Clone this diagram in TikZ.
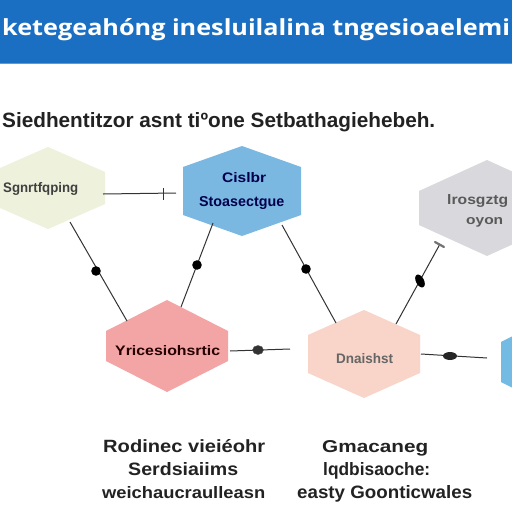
\documentclass[tikz,border=0pt]{standalone}
\usepackage{fontspec}
\setmainfont{Liberation Sans}
\newfontfamily\titlefont{Open Sans}
\usepackage{graphicx}
\definecolor{banner}{HTML}{1B6FC2}
\definecolor{hgreen}{HTML}{EEF1DC}
\definecolor{hblue}{HTML}{7AB8E2}
\definecolor{hgray}{HTML}{D8D8DD}
\definecolor{hpink}{HTML}{F3A5A5}
\definecolor{hpeach}{HTML}{F8D5C8}
\definecolor{linec}{HTML}{333333}
\definecolor{txtdark}{HTML}{222222}
\newcommand\fitbox[3]{\resizebox{#1pt}{#2pt}{#3}}
\newcommand\hexshape[6]{\fill[#1] ({#2},{#3-#5}) -- ({#2+#4},{#3-#6}) -- ({#2+#4},{#3+#6}) -- ({#2},{#3+#5}) -- ({#2-#4},{#3+#6}) -- ({#2-#4},{#3-#6}) -- cycle;}
\begin{document}
\begin{tikzpicture}[x=1pt,y=-1pt,
  conn/.style={draw=linec, line width=1pt},
  blob/.style={fill=black},
  lbl/.style={inner sep=0pt, anchor=base west},
  hextxt/.style={inner sep=0pt, anchor=base west, font=\bfseries}]
\useasboundingbox (0,0) rectangle (512,512);
\clip (0,0) rectangle (512,512);
\fill[white] (0,0) rectangle (512,512);
% banner
\fill[banner] (0,0) rectangle (512,63);
\draw[banner!70!white, line width=0.8pt] (0,63) -- (512,63);
\node[lbl, text=white] (title) at (2,35) {\fitbox{508}{17}{\titlefont\bfseries ketegeahóng inesluilalina tngesioaelemi}};
% subtitle
\node[lbl, text=txtdark] (subtitle) at (2,127) {\fitbox{433}{15}{\bfseries Siedhentitzor asnt tiºone Setbathagiehebeh.}};
% hexagons
\hexshape{hgreen}{48}{188}{57}{41}{16}
\hexshape{hblue}{242}{191}{59}{45}{24}
\hexshape{hgray}{487}{208}{68}{48}{17}
\hexshape{hpink}{167}{346}{61}{46}{15}
\hexshape{hpeach}{364}{354}{56}{44}{19}
\hexshape{hblue!95!cyan}{550}{362}{49}{45}{20}
% hexagon labels
\node[hextxt, text=black!75] (greenlbl) at (3,192) {\fitbox{75}{10}{Sgnrtfqping}};
\node[hextxt, text=black!70!blue] (bluelbl1) at (222,182) {\fitbox{44}{10}{Cislbr}};
\node[hextxt, text=black!70!blue] (bluelbl2) at (199,206) {\fitbox{85}{10}{Stoasectgue}};
\node[hextxt, text=black!65] (graylbl1) at (447,204) {\fitbox{61}{10}{lrosgztg}};
\node[hextxt, text=black!65] (graylbl2) at (466,224) {\fitbox{37}{7}{oyon}};
\node[hextxt, text=black!85!red] (pinklbl) at (115,355) {\fitbox{105}{10}{Yricesiohsrtic}};
\node[hextxt, text=black!60] (peachlbl) at (336,363) {\fitbox{57}{10}{Dnaishst}};
% connector end points
\coordinate (g-e) at (103,194);
\coordinate (b-w) at (176,193);
\coordinate (g-s) at (70,222);
\coordinate (p-nw) at (127,321);
\coordinate (b-sw) at (213,223);
\coordinate (p-ne) at (181,307);
\coordinate (b-se) at (282,225);
\coordinate (pe-nw) at (336,323);
\coordinate (pe-ne) at (396,324);
\coordinate (gr-sw) at (440,244);
\coordinate (p-e) at (230,351);
\coordinate (p-end) at (290,349);
\coordinate (pe-e) at (421,354);
\coordinate (pe-end) at (487,358);
% connectors
\draw[conn] (g-e) -- (b-w);
\draw[conn] (163,188) -- (163,200);
\draw[conn] (g-s) -- (p-nw);
\fill[blob] (96,271) circle (4.8);
\draw[conn] (b-sw) -- (p-ne);
\fill[blob] (197,265) circle (4.8);
\draw[conn] (b-se) -- (pe-nw);
\fill[blob] (306,269) circle (4.8);
\draw[conn] (pe-ne) -- (gr-sw);
\fill[blob, rotate around={-62:(420,281)}] (420,281) ellipse (7 and 4);
\draw[line width=2.2pt, draw=black!55, line cap=round] (435,242) -- (444,247);
\draw[conn] (p-e) -- (p-end);
\fill[black!80, draw=black!70] (258,350) ellipse (5.5 and 4.5);
\draw[conn] (pe-e) -- (pe-end);
\fill[black!85] (450,356) ellipse (7 and 4);
% bottom texts
\node[lbl, text=txtdark] (bl1) at (103,452) {\fitbox{162}{13}{\bfseries Rodinec vieiéohr}};
\node[lbl, text=txtdark] (bl2) at (128,475) {\fitbox{110}{13}{\bfseries Serdsiaiims}};
\node[lbl, text=txtdark] (bl3) at (102,498) {\fitbox{163}{12}{\bfseries weichaucraulleasn}};
\node[lbl, text=txtdark] (br1) at (322,452) {\fitbox{106}{12}{\bfseries Gmacaneg}};
\node[lbl, text=txtdark] (br2) at (323,475) {\fitbox{107}{13}{\bfseries lqdbisaoche:}};
\node[lbl, text=txtdark] (br3) at (297,498) {\fitbox{175}{13}{\bfseries easty Goonticwales}};
\end{tikzpicture}
\end{document}
